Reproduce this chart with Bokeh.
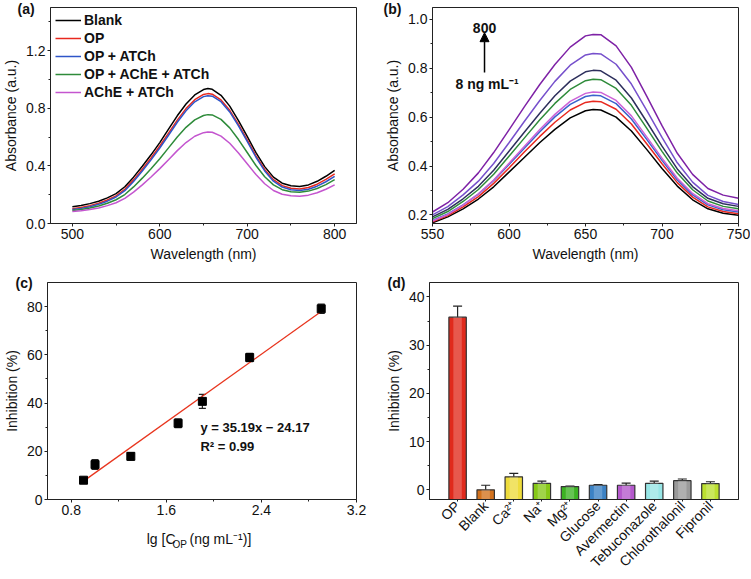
import math
from bokeh.plotting import figure
from bokeh.layouts import row, column
from bokeh.models import (Range1d, FactorRange, Legend, LegendItem, Label, Arrow, Title,
                          NormalHead, Whisker, TeeHead, ColumnDataSource, FixedTicker,
                          NumeralTickFormatter)
from bokeh.embed import file_html
from bokeh.resources import INLINE

# ---------------- data ----------------
# (a) UV-vis spectra
wl_a = [500, 510, 520, 530, 540, 550, 560, 570, 580, 590, 600, 610, 620, 630, 640,
        650, 655, 660, 670, 680, 690, 700, 710, 720, 730, 740, 750, 760, 770, 780, 790, 800]
abs_blank = [0.117, 0.125, 0.138, 0.155, 0.178, 0.207, 0.255, 0.322, 0.398, 0.477, 0.562,
             0.655, 0.748, 0.830, 0.893, 0.930, 0.937, 0.932, 0.890, 0.815, 0.715, 0.605,
             0.492, 0.395, 0.322, 0.280, 0.262, 0.257, 0.268, 0.293, 0.328, 0.369]
abs_op = [0.103, 0.111, 0.124, 0.141, 0.163, 0.192, 0.238, 0.303, 0.377, 0.455, 0.538,
          0.628, 0.718, 0.798, 0.860, 0.896, 0.902, 0.898, 0.858, 0.786, 0.688, 0.580,
          0.470, 0.375, 0.304, 0.263, 0.245, 0.240, 0.250, 0.273, 0.306, 0.345]
abs_op_atch = [0.097, 0.105, 0.117, 0.133, 0.155, 0.184, 0.228, 0.292, 0.365, 0.442, 0.524,
               0.613, 0.703, 0.783, 0.845, 0.881, 0.887, 0.884, 0.846, 0.775, 0.678, 0.570,
               0.460, 0.365, 0.294, 0.253, 0.234, 0.229, 0.238, 0.259, 0.290, 0.328]
abs_op_ache_atch = [0.091, 0.098, 0.108, 0.122, 0.141, 0.165, 0.201, 0.254, 0.315, 0.381,
                    0.450, 0.525, 0.601, 0.668, 0.720, 0.750, 0.756, 0.754, 0.723, 0.664,
                    0.583, 0.493, 0.403, 0.325, 0.268, 0.235, 0.220, 0.217, 0.225, 0.243,
                    0.270, 0.305]
abs_ache_atch = [0.083, 0.089, 0.097, 0.108, 0.124, 0.144, 0.174, 0.218, 0.268, 0.323, 0.381,
                 0.443, 0.506, 0.562, 0.606, 0.631, 0.636, 0.634, 0.607, 0.557, 0.490, 0.415,
                 0.340, 0.276, 0.229, 0.203, 0.192, 0.190, 0.197, 0.214, 0.238, 0.268]
names_a = ["Blank", "OP", "OP + ATCh", "OP + AChE + ATCh", "AChE + ATCh"]
series_a = [abs_blank, abs_op, abs_op_atch, abs_op_ache_atch, abs_ache_atch]
colors_a = ["#000000", "#e8281e", "#2f55c8", "#2e8b3a", "#c455cf"]

# (b) spectra at increasing OP concentration (8 -> 800 ng/mL)
wl_b = [550, 560, 570, 580, 590, 600, 610, 620, 630, 640, 650, 655, 660, 670, 680, 690,
        700, 710, 720, 730, 740, 750]
abs_b1 = [0.168, 0.192, 0.225, 0.265, 0.315, 0.375, 0.435, 0.495, 0.550, 0.597, 0.626,
          0.631, 0.629, 0.600, 0.543, 0.468, 0.390, 0.318, 0.262, 0.225, 0.207, 0.199]
abs_b2 = [0.172, 0.197, 0.233, 0.275, 0.329, 0.392, 0.457, 0.520, 0.579, 0.629, 0.660,
          0.665, 0.663, 0.632, 0.572, 0.491, 0.409, 0.332, 0.273, 0.233, 0.214, 0.205]
abs_b3 = [0.178, 0.204, 0.241, 0.285, 0.341, 0.406, 0.473, 0.539, 0.601, 0.652, 0.684,
          0.689, 0.687, 0.655, 0.592, 0.509, 0.423, 0.343, 0.282, 0.241, 0.221, 0.212]
abs_b4 = [0.175, 0.202, 0.240, 0.286, 0.343, 0.411, 0.480, 0.548, 0.611, 0.664, 0.697,
          0.703, 0.701, 0.668, 0.605, 0.519, 0.432, 0.350, 0.288, 0.246, 0.226, 0.217]
abs_b5 = [0.185, 0.214, 0.255, 0.304, 0.366, 0.440, 0.514, 0.588, 0.656, 0.713, 0.749,
          0.755, 0.753, 0.717, 0.648, 0.555, 0.460, 0.371, 0.303, 0.257, 0.235, 0.225]
abs_b6 = [0.192, 0.223, 0.266, 0.317, 0.383, 0.460, 0.538, 0.615, 0.687, 0.747, 0.785,
          0.791, 0.789, 0.751, 0.678, 0.581, 0.481, 0.388, 0.316, 0.268, 0.246, 0.235]
abs_b7 = [0.200, 0.234, 0.282, 0.338, 0.410, 0.495, 0.582, 0.667, 0.746, 0.812, 0.854,
          0.860, 0.858, 0.816, 0.735, 0.627, 0.517, 0.413, 0.334, 0.280, 0.255, 0.243]
abs_b8 = [0.212, 0.250, 0.305, 0.372, 0.455, 0.548, 0.642, 0.732, 0.815, 0.886, 0.932,
          0.938, 0.937, 0.891, 0.803, 0.686, 0.565, 0.452, 0.366, 0.308, 0.281, 0.268]
series_b = [abs_b1, abs_b2, abs_b3, abs_b4, abs_b5, abs_b6, abs_b7, abs_b8]
colors_b = ["#000000", "#e8281e", "#3a62cc", "#cc62d6", "#2e8b3a", "#2d2f5c", "#7650cc", "#7e22a6"]

# (c) calibration
conc_c = [8, 10, 20, 50, 80, 200, 800]
inhib_c = [8.0, 14.5, 17.9, 31.6, 40.7, 58.9, 79.1]
inhib_c_err = [0.8, 2.0, 1.6, 1.8, 2.9, 1.7, 1.9]
fit_slope = 35.19
fit_intercept = -24.17

# (d) selectivity
cats_d = ["OP", "Blank", "Ca\u00b2\u207a", "Na\u207a", "Mg\u00b2\u207a", "Glucose",
          "Avermectin", "Tebuconazole", "Chlorothalonil", "Fipronil"]
inhib_d = [35.8, 0.0, 2.7, 1.35, 0.67, 0.95, 0.95, 1.35, 1.9, 1.3]
inhib_d_err = [2.3, 0.95, 0.7, 0.45, 0.1, 0.12, 0.45, 0.45, 0.35, 0.38]
colors_d = ["#e02a1c", "#d2711c", "#eedc3c", "#86c816", "#3cb223", "#3c82c4",
            "#b458cc", "#98e6e6", "#9a9a9a", "#bce030"]

# ---------------- layout constants ----------------
FONT = "Liberation Sans"
FW = 311
BL = 45
BR_A, BR_B = 26, 12
BT1, FH1, BB1 = 7, 216, 50
BT2, FH2, BB2 = 9, 220, 76
WA, WB = BL + FW + BR_A, BL + FW + BR_B
H1, H2 = BT1 + FH1 + BB1, BT2 + FH2 + BB2

A_X, A_Y = (475, 825), (0, 1.5)
B_X, B_Y = (550, 750), (0.165, 1.048)
C_X, C_Y = (0.6, 3.2), (0, 90)
D_Y = (-2, 43)


def make_fig(w, h, xr, yr, br, bt, bb):
    p = figure(width=w, height=h, x_range=xr, y_range=yr, output_backend="svg",
               toolbar_location=None, tools="", min_border_left=BL, min_border_right=br,
               min_border_top=bt, min_border_bottom=bb)
    p.xgrid.visible = False
    p.ygrid.visible = False
    p.outline_line_color = "#222222"
    p.outline_line_width = 1
    p.background_fill_color = "white"
    p.border_fill_color = "white"
    for ax in (p.xaxis[0], p.yaxis[0]):
        ax.axis_line_color = "#222222"
        ax.major_tick_line_color = "#222222"
        ax.minor_tick_line_color = "#222222"
        ax.major_tick_in = 0
        ax.major_tick_out = 3
        ax.minor_tick_in = 0
        ax.minor_tick_out = 2
        ax.major_label_text_font = FONT
        ax.major_label_text_font_size = "14px"
        ax.major_label_text_color = "#111111"
        ax.axis_label_text_font = FONT
        ax.axis_label_text_font_size = "14px"
        ax.axis_label_text_font_style = "normal"
        ax.axis_label_text_color = "#111111"
        ax.major_label_standoff = 2
        ax.axis_label_standoff = 4
    return p


def side_text(p, text, side, align, offset, valign, standoff, size="14px", style="normal"):
    # text placed in a side panel of the figure (outside the data frame)
    p.add_layout(Title(text=text, align=align, offset=offset, vertical_align=valign,
                       standoff=standoff, text_font=FONT, text_font_size=size,
                       text_font_style=style, text_color="#111111"), side)


# ---------------- (a) ----------------
pa = make_fig(WA, H1, Range1d(*A_X), Range1d(*A_Y), BR_A, BT1, BB1)
pa.xaxis.ticker = FixedTicker(ticks=[500, 600, 700, 800], minor_ticks=[550, 650, 750])
pa.yaxis.ticker = FixedTicker(ticks=[0.0, 0.4, 0.8, 1.2], minor_ticks=[0.2, 0.6, 1.0, 1.4])
pa.yaxis.formatter = NumeralTickFormatter(format="0.0")
pa.xaxis.axis_label = "Wavelength (nm)"
pa.yaxis.axis_label = "Absorbance (a.u.)"
items = []
for name, ys, c in zip(names_a, series_a, colors_a):
    r = pa.line(wl_a, ys, line_color=c, line_width=1.5)
    items.append(LegendItem(label=name, renderers=[r]))
leg = Legend(items=items, location="top_left", margin=5, padding=2, spacing=2,
             glyph_width=26, glyph_height=16, label_height=16, label_standoff=3,
             label_text_font=FONT, label_text_font_size="14px", label_text_font_style="bold",
             label_text_color="#111111", border_line_color=None, background_fill_alpha=0)
pa.add_layout(leg)
side_text(pa, "(a)", "above", "left", -33, "bottom", -18, style="bold")

# ---------------- (b) ----------------
pb = make_fig(WB, H1, Range1d(*B_X), Range1d(*B_Y), BR_B, BT1, BB1)
pb.xaxis.ticker = FixedTicker(ticks=[550, 600, 650, 700, 750], minor_ticks=[575, 625, 675, 725])
pb.yaxis.ticker = FixedTicker(ticks=[0.2, 0.4, 0.6, 0.8, 1.0], minor_ticks=[0.3, 0.5, 0.7, 0.9])
pb.yaxis.formatter = NumeralTickFormatter(format="0.0")
pb.xaxis.axis_label = "Wavelength (nm)"
pb.yaxis.axis_label = "Absorbance (a.u.)"
for ys, c in zip(series_b, colors_b):
    pb.line(wl_b, ys, line_color=c, line_width=1.5)
pb.add_layout(Arrow(end=NormalHead(size=9, fill_color="black", line_color="black"),
                    x_start=584, y_start=0.782, x_end=584, y_end=0.945,
                    line_width=1.5, line_color="black"))
pb.add_layout(Label(x=584, y=0.966, text="800", text_font=FONT, text_font_size="14px",
                    text_font_style="bold", text_align="center", text_baseline="middle",
                    text_color="#111111"))
pb.add_layout(Label(x=565, y=0.734, text="8 ng mL\u207b\u00b9", text_font=FONT,
                    text_font_size="14px", text_font_style="bold", text_align="left",
                    text_baseline="middle", text_color="#111111"))
side_text(pb, "(b)", "above", "left", -49, "bottom", -18, style="bold")

# ---------------- (c) ----------------
lg_c = [math.log10(c) for c in conc_c]
pc = make_fig(WA, H2, Range1d(*C_X), Range1d(*C_Y), BR_A, BT2, BB2)
pc.xaxis.ticker = FixedTicker(ticks=[0.8, 1.6, 2.4, 3.2], minor_ticks=[1.2, 2.0, 2.8])
pc.yaxis.ticker = FixedTicker(ticks=[0, 20, 40, 60, 80], minor_ticks=[10, 30, 50, 70])
pc.xaxis.formatter = NumeralTickFormatter(format="0.0")
pc.yaxis.axis_label = "Inhibition (%)"
fit_x = [lg_c[0], lg_c[-1]]
fit_y = [fit_slope * x + fit_intercept for x in fit_x]
pc.line(fit_x, fit_y, line_color="#e8351e", line_width=1.3)
src_c = ColumnDataSource(dict(x=lg_c, y=inhib_c,
                              upper=[v + e for v, e in zip(inhib_c, inhib_c_err)],
                              lower=[v - e for v, e in zip(inhib_c, inhib_c_err)]))
pc.add_layout(Whisker(base="x", upper="upper", lower="lower", source=src_c,
                      line_color="#222222", line_width=1.2,
                      upper_head=TeeHead(size=7, line_color="#222222", line_width=1.2),
                      lower_head=TeeHead(size=7, line_color="#222222", line_width=1.2)))
pc.scatter("x", "y", source=src_c, marker="square", size=8, fill_color="black",
           line_color="black")
eq_x = 1.887
pc.add_layout(Label(x=eq_x, y=29.9, text="y = 35.19x \u2212 24.17", text_font=FONT,
                    text_font_size="13px", text_font_style="bold", text_align="left",
                    text_baseline="middle", text_color="#111111"))
pc.add_layout(Label(x=eq_x, y=21.8, text="R\u00b2 = 0.99", text_font=FONT,
                    text_font_size="13px", text_font_style="bold", text_align="left",
                    text_baseline="middle", text_color="#111111"))
# x-axis title with subscript, built from three side-panel texts
side_text(pc, "\u00a0", "below", "left", 0, "top", 3)          # spacer
side_text(pc, "lg [C", "below", "right", 181, "middle", -18)
side_text(pc, " (ng mL\u207b\u00b9)]", "below", "left", 142, "middle", -18)
side_text(pc, "OP", "below", "left", 125, "bottom", -4, size="10px")
side_text(pc, "(c)", "above", "left", -32, "middle", -18, style="bold")

# ---------------- (d) ----------------
pd_ = make_fig(WB, H2, FactorRange(factors=cats_d, range_padding=0.1), Range1d(*D_Y),
               BR_B, BT2, BB2)
pd_.yaxis.ticker = FixedTicker(ticks=[0, 10, 20, 30, 40], minor_ticks=[5, 15, 25, 35])
pd_.yaxis.axis_label = "Inhibition (%)"
pd_.xaxis.major_label_orientation = math.pi / 4
pd_.xaxis.major_tick_out = 2
src_d = ColumnDataSource(dict(x=cats_d, top=inhib_d, color=colors_d,
                              upper=[v + e for v, e in zip(inhib_d, inhib_d_err)],
                              lower=[v - e for v, e in zip(inhib_d, inhib_d_err)]))
pd_.vbar(x="x", top="top", bottom=D_Y[0], width=0.62, source=src_d, fill_color="color",
         line_color="#333333", line_width=1.2)
pd_.vbar(x="x", top="top", bottom=D_Y[0], width=0.3, source=src_d, fill_color="white",
         fill_alpha=0.22, line_color=None)
pd_.add_layout(Whisker(base="x", upper="upper", lower="lower", source=src_d,
                       line_color="#222222", line_width=1.2,
                       upper_head=TeeHead(size=9, line_color="#222222", line_width=1.2),
                       lower_head=TeeHead(size=9, line_color="#222222", line_width=1.2)))
side_text(pd_, "(d)", "above", "left", -42, "middle", -18, style="bold")

layout = column(row(pa, pb), row(pc, pd_))
open("out.html", "w").write(file_html(layout, INLINE))
